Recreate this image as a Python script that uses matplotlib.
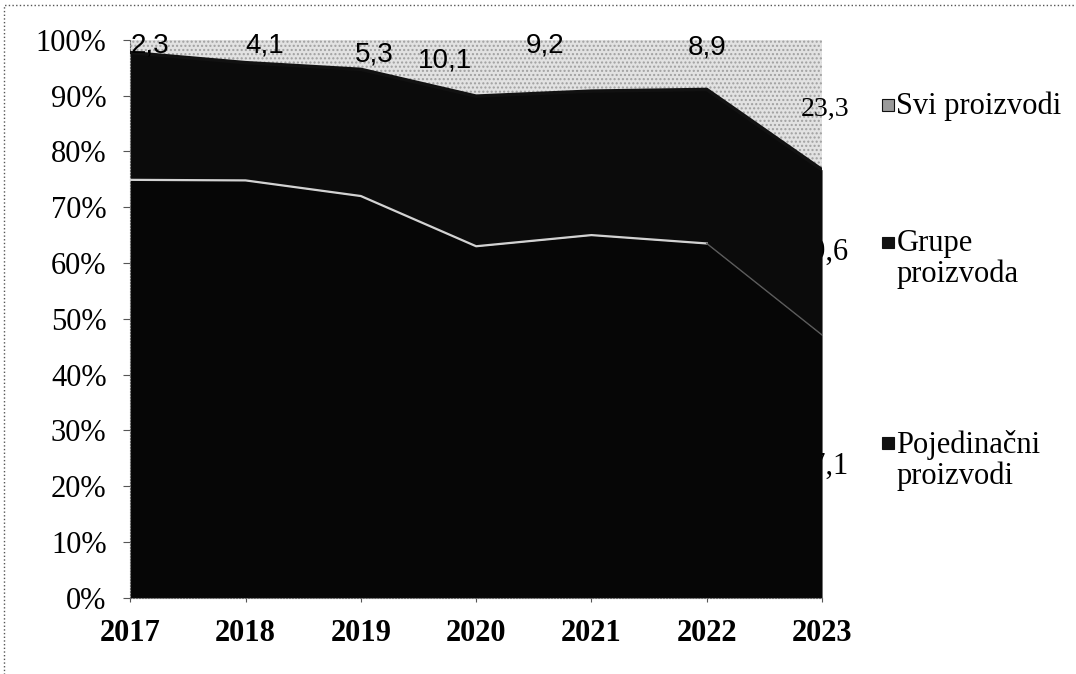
import matplotlib.pyplot as plt
from matplotlib.patches import Rectangle

years = [2017, 2018, 2019, 2020, 2021, 2022, 2023]
pojedinacni = [74.9, 74.8, 72.0, 63.0, 65.0, 63.5, 47.1]
grupe = [22.8, 21.1, 22.7, 26.9, 25.8, 27.6, 29.6]
svi = [2.3, 4.1, 5.3, 10.1, 9.2, 8.9, 23.3]
svi_labels = ['2,3', '4,1', '5,3', '10,1', '9,2', '8,9', '23,3']
# label positions as drawn in the source (they sit a bit off the points)
svi_label_x = [2017.17, 2018.17, 2019.12, 2019.73, 2020.6, 2022.0, 2023.03]
svi_label_y = [99.0, 99.0, 97.4, 96.3, 99.0, 98.6, 87.5]

plt.rcParams['font.family'] = ['Liberation Serif', 'DejaVu Serif']

fig = plt.figure(figsize=(10.76, 6.74), dpi=100)
ax = fig.add_axes([0.121, 0.113, 0.643, 0.828])

p_top = pojedinacni
g_top = [p + g for p, g in zip(pojedinacni, grupe)]
s_top = [gt + s for gt, s in zip(g_top, svi)]

ax.fill_between(years, 0, p_top, color='#060606', lw=0, zorder=2)
ax.fill_between(years, p_top, g_top, color='#0b0b0b', lw=0, zorder=2)
ax.fill_between(years, g_top, s_top, facecolor='#e2e2e2', hatch='....',
                edgecolor='#a0a0a0', lw=0, zorder=1)
ax.plot(years[:-1], p_top[:-1], color='#d2d2d2', lw=1.6, zorder=3)
ax.plot(years[-2:], p_top[-2:], color='#5a5a5a', lw=1.0, zorder=3)
ax.plot(years, g_top, color='#111111', lw=2.5, zorder=3)

# data labels
for i, lab in enumerate(svi_labels):
    fam = ['Liberation Sans'] if i < 6 else ['Liberation Serif']
    ax.text(svi_label_x[i], svi_label_y[i], lab, ha='center', va='center',
            fontsize=20, family=fam, color='black', zorder=5, clip_on=False)
ax.text(years[-1], pojedinacni[-1] + grupe[-1] / 2, '29,6',
        ha='center', va='center', fontsize=22, color='black', zorder=1.5,
        clip_on=False)
ax.text(years[-1], pojedinacni[-1] / 2, '47,1', ha='center', va='center',
        fontsize=22, color='black', zorder=1.5, clip_on=False)

ax.set_xlim(2017, 2023)
ax.set_ylim(0, 100)
ax.set_xticks(years)
ax.set_xticklabels([str(y) for y in years], fontsize=22, fontweight='bold')
ax.set_yticks(range(0, 101, 10))
ax.set_yticklabels([f'{v}%' for v in range(0, 101, 10)], fontsize=22)
ax.tick_params(axis='y', length=5, width=0.8, color='#555555', pad=12)
ax.tick_params(axis='x', length=3, width=0.8, color='#555555', pad=12)
for side in ['top', 'right']:
    ax.spines[side].set_visible(False)
ax.spines['left'].set_color('#666666')
ax.spines['left'].set_linestyle(':')
ax.spines['bottom'].set_color('#666666')
ax.spines['bottom'].set_linestyle(':')

# legend drawn by hand (markers sit on the first text line)
leg = [('Svi proizvodi', '#9a9a9a', 0.852),
       ('Grupe\nproizvoda', '#111111', 0.648),
       ('Pojedinačni\nproizvodi', '#111111', 0.350)]
for text, col, ytop in leg:
    fig.patches.append(Rectangle((0.820, ytop - 0.016), 0.011, 0.017,
                                 transform=fig.transFigure, facecolor=col,
                                 edgecolor='#111111', lw=0.8))
    fig.text(0.833, ytop + 0.012, text, fontsize=22, va='top', ha='left',
             linespacing=1.05)

# dotted chart border
fig.patches.append(Rectangle((0.004, -0.01), 1.2, 1.003,
                             transform=fig.transFigure, fill=False,
                             edgecolor='#555555', lw=1.0, ls=':'))

fig.savefig('out.png', dpi=100)
